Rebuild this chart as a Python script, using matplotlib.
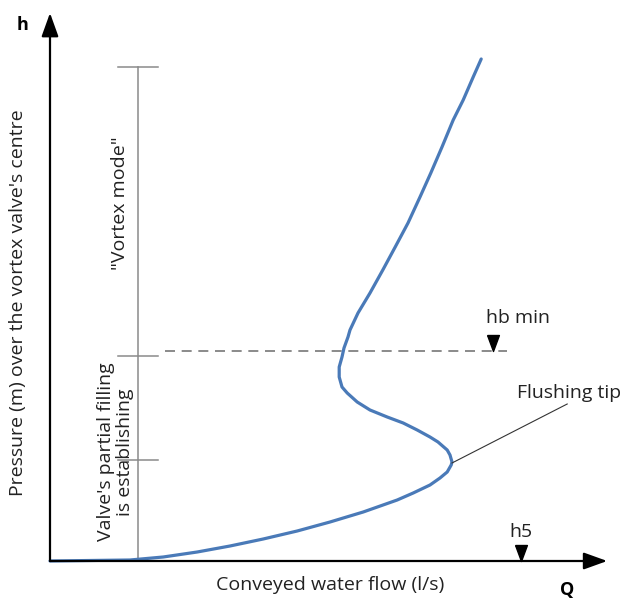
import matplotlib.pyplot as plt
from matplotlib.path import Path

plt.rcParams["font.family"] = ["Open Sans", "DejaVu Sans"]

# characteristic curve (Q in l/s, h in m, arbitrary scale)
flow_q = [0.0, 1.0, 2.0, 2.83, 3.68, 4.5, 5.33, 6.18, 7.0, 7.83, 8.68, 9.08,
          9.5, 9.75, 9.93, 10.03, 10.05, 10.0, 9.93, 9.7, 9.5, 9.18, 8.83, 8.43,
          8.0, 7.68, 7.43, 7.3, 7.23, 7.23, 7.3, 7.35, 7.45, 7.5, 7.7, 8.0,
          8.32, 8.63, 8.95, 9.25, 9.52, 9.8, 10.08, 10.33, 10.58, 10.78]
head_h = [0.0, 0.01, 0.02, 0.08, 0.18, 0.3, 0.44, 0.6, 0.78, 0.98, 1.22, 1.36,
          1.52, 1.66, 1.78, 1.92, 1.98, 2.12, 2.22, 2.38, 2.48, 2.62, 2.76, 2.88,
          3.02, 3.18, 3.36, 3.48, 3.68, 3.88, 4.08, 4.26, 4.48, 4.62, 4.96, 5.36,
          5.82, 6.28, 6.76, 7.28, 7.76, 8.28, 8.82, 9.22, 9.68, 10.04]

range_q = 2.2
range_ticks = [9.88, 4.1, 2.02]
hb_min = 4.2
hb_min_q = 11.08
h5_q = 11.78
tip_q, tip_h = 10.05, 1.96

TXT = "#222222"
FS = 14

fig = plt.figure(figsize=(6.28, 6.01), dpi=100)
ax = fig.add_axes([0, 0, 1, 1])
ax.set_xlim(-1.25, 14.45)
ax.set_ylim(-0.8, 11.22)
ax.axis("off")

# axes with arrow heads
arrow = dict(arrowstyle="-|>,head_length=1.0,head_width=0.36", mutation_scale=14.4,
             color="black", lw=1.6, shrinkA=0, shrinkB=0)
ax.annotate("", xy=(13.93, 0), xytext=(0, 0), arrowprops=arrow)
ax.annotate("", xy=(0, 10.96), xytext=(0, 0), arrowprops=arrow)
ax.text(-0.68, 10.72, "h", fontsize=13, fontweight="bold", ha="center", va="center")
ax.text(12.93, -0.57, "Q", fontsize=13, fontweight="bold", ha="center", va="center")
ax.text(7.0, -0.48, "Conveyed water flow (l/s)", fontsize=FS, ha="center", va="center",
        color=TXT)
ax.text(-0.8, 5.16, "Pressure (m) over the vortex valve's centre", fontsize=FS,
        rotation=90, ha="center", va="center", color=TXT)

# range bar on the left
ax.plot([range_q, range_q], [0, range_ticks[0]], color="#8a8a8a", lw=1.1)
for t in range_ticks:
    ax.plot([range_q - 0.5, range_q + 0.5], [t, t], color="#8a8a8a", lw=1.1)
ax.text(1.75, 7.16, '"Vortex mode"', fontsize=FS, rotation=90, ha="center", va="center",
        color=TXT)
ax.text(1.63, 2.18, "Valve's partial filling\nis establishing", fontsize=FS, rotation=90,
        ha="center", va="center", multialignment="center", linespacing=1.05,
        color=TXT)

# hb min line
ax.plot([2.88, 11.43], [hb_min, hb_min], color="#777777", lw=1.2, dashes=(6, 4))
tri = Path([(-0.37, 0.5), (0.37, 0.5), (0, -0.5), (-0.37, 0.5)])
ax.plot([hb_min_q], [hb_min + 0.16], marker=tri, ms=11.5, color="black", ls="none")
ax.text(11.7, 4.86, "hb min", fontsize=FS, ha="center", va="center", color=TXT)

# h5 marker
ax.plot([h5_q], [0.16], marker=tri, ms=11.5, color="black", ls="none")
ax.text(h5_q, 0.58, "h5", fontsize=FS, ha="center", va="center", color=TXT)

# curve
ax.plot(flow_q, head_h, color="#4a7ab8", lw=2.3, solid_capstyle="round",
        solid_joinstyle="round")

# flushing tip annotation
ax.plot([tip_q, 12.93], [tip_h, 3.14], color="#333333", lw=0.8)
ax.text(11.68, 3.36, "Flushing tip", fontsize=FS, ha="left", va="center", color=TXT)

fig.savefig("out.png", dpi=100)
